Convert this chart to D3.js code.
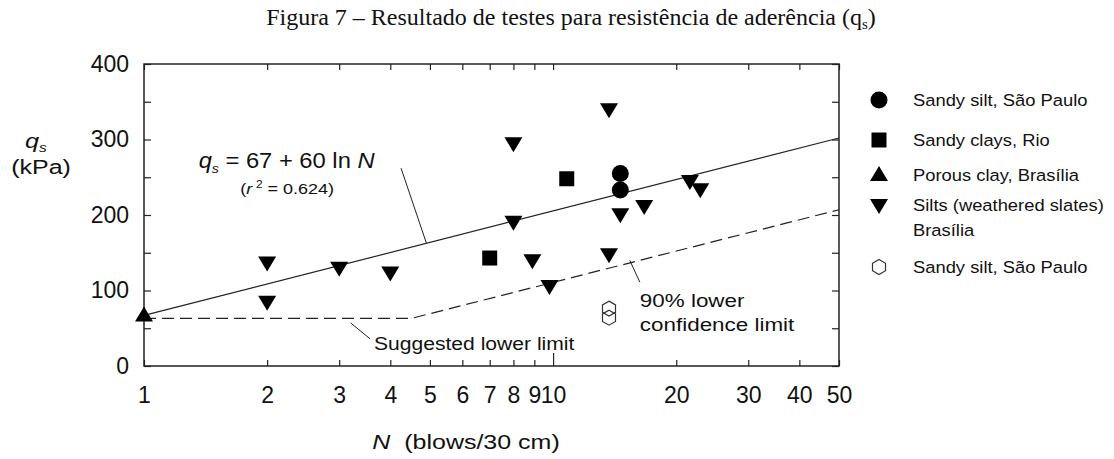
<!DOCTYPE html>
<html><head><meta charset="utf-8">
<script src="https://cdn.jsdelivr.net/npm/d3@7"></script>
<style>body{margin:0;background:#fff} svg{display:block} text{fill:#111}</style>
</head><body><svg id="c" width="1114" height="459"></svg>
<script>
// ---------- data ----------
const xTicks = [1,2,3,4,5,6,7,8,9,10,20,30,40,50];
const xLabels = [1,2,3,4,5,6,7,8,9,10,20,30,40,50];
const yTicks = [0,50,100,150,200,250,300,350,400];
const yLabels = [0,100,200,300,400];

const sandySiltSaoPaulo = [[14.6,255],[14.6,233]];
const sandyClaysRio = [[7,143],[10.8,248]];
const porousClayBrasilia = [[1,67]];
const siltsBrasilia = [[2,137],[2,85],[3,130],[4,124],[8,295],[8,191],[8.9,140],[9.8,106],
  [13.7,340],[13.7,148],[14.6,201],[16.7,212],[21.6,245],[22.9,234]];
const sandySiltSaoPauloOpen = [[13.7,76],[13.7,64]];

const regressionLine = [[1,67],[50,302]];
const lowerLimitLine = [[1,63],[4.5,63],[50,207]];

const legendItems = [
  {sym:"circle", lines:["Sandy silt, São Paulo"]},
  {sym:"square", lines:["Sandy clays, Rio"]},
  {sym:"triUp", lines:["Porous clay, Brasília"]},
  {sym:"triDown", lines:["Silts (weathered slates)","Brasília"]},
  {sym:"hex", lines:["Sandy silt, São Paulo"]}
];
const legendRowY = [100,140,175,205,267];

// ---------- setup ----------
const svg = d3.select("#c");
const L=144, R=839, T=64, B=366;
const x = d3.scaleLog().domain([1,50]).range([L,R]);
const y = d3.scaleLinear().domain([0,400]).range([B,T]);
const FONT = "'Liberation Sans', Arial, Helvetica, sans-serif";
const INK = "#222";

function stext(parent, px, py, anchor, size, sx, family){
  const g = parent.append("g").attr("transform",`translate(${px},${py}) scale(${sx},1)`);
  return g.append("text").attr("text-anchor",anchor)
    .style("font-family", family||FONT).style("font-size", size+"px");
}

const shapes = {
  circle: d3.symbol(d3.symbolCircle, Math.PI*8.5*8.5)(),
  square: "M-7.5,-7.5H7.5V7.5H-7.5Z",
  triUp: "M-9,6L9,6L0,-9Z",
  triDown: "M-9,-6L9,-6L0,9Z",
  hex: "M0,-7.5L6.5,-3.75L6.5,3.75L0,7.5L-6.5,3.75L-6.5,-3.75Z"
};

// ---------- title ----------
const title = stext(svg, 571, 25, "middle", 24, 1.0, "'Liberation Serif','Times New Roman',serif");
title.append("tspan").text("Figura 7 – Resultado de testes para resistência de aderência (q");
title.append("tspan").attr("font-size","15px").attr("dy","4").text("s");
title.append("tspan").attr("dy","-4").text(")");

// ---------- axes ----------
const axB = d3.axisBottom(x).tickValues(xTicks).tickSizeInner(-6).tickSizeOuter(0).tickPadding(21)
  .tickFormat(d => xLabels.includes(d) ? d : "");
const gB = svg.append("g").attr("transform",`translate(0,${B})`).call(axB);
gB.selectAll(".tick line").filter(d => d===10).attr("y2",-13);

const axT = d3.axisTop(x).tickValues(xTicks).tickSizeInner(-6).tickSizeOuter(0).tickFormat("");
svg.append("g").attr("transform",`translate(0,${T})`).call(axT);

const axL = d3.axisLeft(y).tickValues(yTicks).tickSizeInner(-7).tickSizeOuter(0).tickPadding(15)
  .tickFormat(d => yLabels.includes(d) ? d : "");
svg.append("g").attr("transform",`translate(${L},0)`).call(axL);

const axR = d3.axisRight(y).tickValues(yTicks).tickSizeInner(-7).tickSizeOuter(0).tickFormat("");
svg.append("g").attr("transform",`translate(${R},0)`).call(axR);

svg.selectAll(".domain").remove();
svg.selectAll(".tick line").attr("stroke",INK).attr("stroke-width",1.2);
svg.selectAll(".tick text").style("font-family",FONT).style("font-size","23px").attr("fill","#111");

svg.append("rect").attr("x",L).attr("y",T).attr("width",R-L).attr("height",B-T)
  .attr("fill","none").attr("stroke",INK).attr("stroke-width",1.5);

// axis titles
const yt = stext(svg, 36, 148, "middle", 21, 1.2);
yt.append("tspan").style("font-style","italic").text("q");
yt.append("tspan").style("font-style","italic").attr("font-size","13px").attr("dy","4").text("s");
stext(svg, 41, 174, "middle", 20, 1.25).text("(kPa)");

const xt = stext(svg, 466, 449, "middle", 20, 1.25);
xt.append("tspan").style("font-style","italic").text("N");
xt.append("tspan").attr("xml:space","preserve").text("  (blows/30 cm)");

// ---------- lines ----------
const line = d3.line().x(d=>x(d[0])).y(d=>y(d[1]));
svg.append("path").datum(regressionLine).attr("d",line).attr("fill","none")
  .attr("stroke",INK).attr("stroke-width",1.2);
svg.append("path").datum(lowerLimitLine).attr("d",line).attr("fill","none")
  .attr("stroke",INK).attr("stroke-width",1.2).attr("stroke-dasharray","12,6");

// leaders (data units)
const leaders = [
  [[4.25,262],[4.9,163]],
  [[3.2,57],[3.57,36]],
  [[15.4,140],[16.3,111]]
];
leaders.forEach(l => svg.append("path").datum(l).attr("d",line).attr("fill","none")
  .attr("stroke",INK).attr("stroke-width",1));

// annotations
const eq = stext(svg, x(1.36), y(262), "start", 22, 1.08);
eq.append("tspan").style("font-style","italic").text("q");
eq.append("tspan").style("font-style","italic").attr("font-size","13px").attr("dy","5").text("s");
eq.append("tspan").attr("dy","-5").attr("xml:space","preserve").text(" = 67 + 60 ln ");
eq.append("tspan").style("font-style","italic").text("N");

const r2 = stext(svg, x(1.72), y(228), "start", 15, 1.2);
r2.append("tspan").text("(");
r2.append("tspan").style("font-style","italic").text("r");
r2.append("tspan").attr("font-size","10px").attr("dy","-6").attr("dx","3").text("2");
r2.append("tspan").attr("dy","6").attr("xml:space","preserve").text(" = 0.624)");

stext(svg, x(3.65), y(21), "start", 19, 1.11).text("Suggested lower limit");
stext(svg, x(16.3), y(78), "start", 19, 1.18).text("90% lower");
stext(svg, x(16.3), y(46), "start", 19, 1.18).text("confidence limit");

// ---------- points ----------
function plot(data, shape, fill){
  svg.append("g").selectAll("path").data(data).join("path")
    .attr("d", shapes[shape])
    .attr("transform", d => `translate(${x(d[0])},${y(d[1])})`)
    .attr("fill", fill ? "#000" : "none")
    .attr("stroke", fill ? "none" : "#333").attr("stroke-width",1.2);
}
plot(siltsBrasilia, "triDown", true);
plot(sandyClaysRio, "square", true);
plot(sandySiltSaoPaulo, "circle", true);
plot(porousClayBrasilia, "triUp", true);
plot(sandySiltSaoPauloOpen, "hex", false);

// ---------- legend ----------
legendItems.forEach((it,i) => {
  const cy = legendRowY[i];
  svg.append("path").attr("d", shapes[it.sym]).attr("transform",`translate(879,${cy})`)
    .attr("fill", it.sym==="hex" ? "none" : "#000")
    .attr("stroke", it.sym==="hex" ? "#333" : "none").attr("stroke-width",1.2);
  it.lines.forEach((ln,j) => {
    stext(svg, 913, cy + 6 + j*25, "start", 17, 1.08).text(ln);
  });
});
</script></body></html>
